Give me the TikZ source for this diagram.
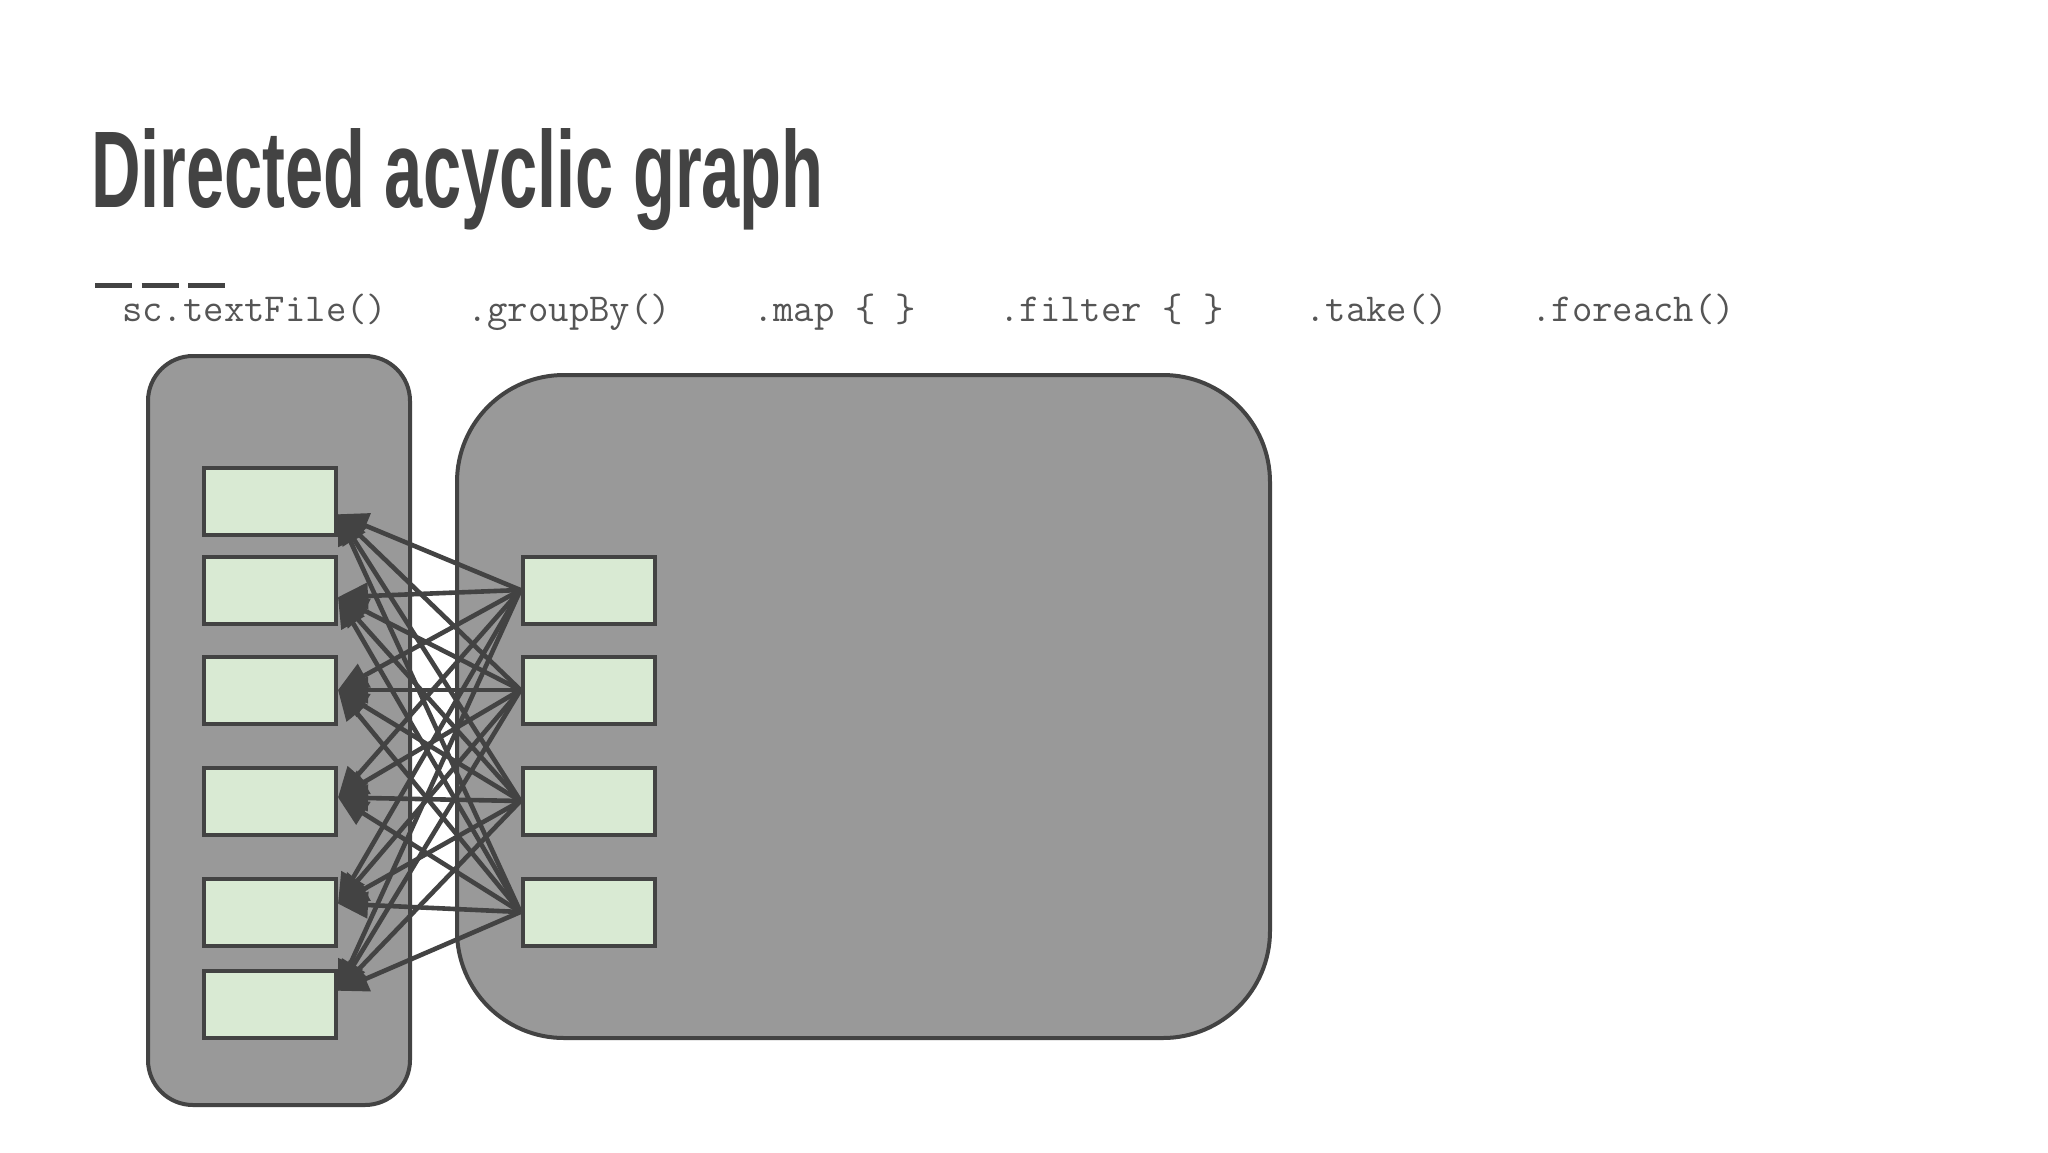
\documentclass[tikz,border=0pt]{standalone}
\usepackage{fontspec}
\newfontfamily\titlefont[FakeStretch=0.63]{Liberation Sans Bold}
\usetikzlibrary{arrows.meta}
\definecolor{ink}{HTML}{434343}
\definecolor{stagefill}{HTML}{999999}
\definecolor{partfill}{HTML}{D9EAD3}
\definecolor{codegray}{HTML}{555555}
\tikzset{
  stagebox/.style={draw=ink, fill=stagefill, line width=4pt, inner sep=0pt},
  partbox/.style={draw=ink, fill=partfill, line width=4pt, inner sep=0pt,
    minimum width=132pt, minimum height=67pt},
  codelabel/.style={anchor=base west, inner sep=0pt, text=codegray,
    font=\ttfamily\fontsize{39.6}{42}\selectfont},
  link/.style={draw=ink, line width=4.6pt, -{Triangle[length=30pt,width=26pt]}}
}
\begin{document}
\begin{tikzpicture}[x=1pt,y=-1pt]
\useasboundingbox[fill=white] (0,0) rectangle (2048,1152);
% title
\node[anchor=base west, inner sep=0pt, text=ink,
  font=\titlefont\fontsize{109}{120}\selectfont] (title) at (91,207) {Directed acyclic graph};
\draw[ink, line width=5pt, dash pattern=on 37pt off 9.5pt] (95,285) -- (225,285);
% code labels
\node[codelabel] (c1) at (122,321) {sc.textFile()};
\node[codelabel] (c2) at (467,321) {.groupBy()};
\node[codelabel] (c3) at (753,321) {.map \{ \}};
\node[codelabel] (c4) at (999,321) {.filter \{ \}};
\node[codelabel] (c5) at (1305,321) {.take()};
\node[codelabel] (c6) at (1531,321) {.foreach()};
% stages
\node[stagebox, rounded corners=45pt, minimum width=262pt, minimum height=749pt] (stageA) at (279,730.5) {};
\node[stagebox, rounded corners=107pt, minimum width=813pt, minimum height=663pt] (stageB) at (863.5,706.5) {};
% partitions
\node[partbox] (L1) at (270,501) {};
\node[partbox] (L2) at (270,590) {};
\node[partbox] (L3) at (270,690) {};
\node[partbox] (L4) at (270,801) {};
\node[partbox] (L5) at (270,912) {};
\node[partbox] (L6) at (270,1004) {};
\node[partbox] (R1) at (588.5,590) {};
\node[partbox] (R2) at (588.5,690) {};
\node[partbox] (R3) at (588.5,801) {};
\node[partbox] (R4) at (588.5,912) {};
% dependencies
\foreach \r in {1,...,4}{
  \foreach \l/\a in {1/-11,2/-6,3/0,4/3,5/7,6/11}{
    \draw[link] (R\r.west) -- (L\l.\a);
  }
}
\end{tikzpicture}
\end{document}
